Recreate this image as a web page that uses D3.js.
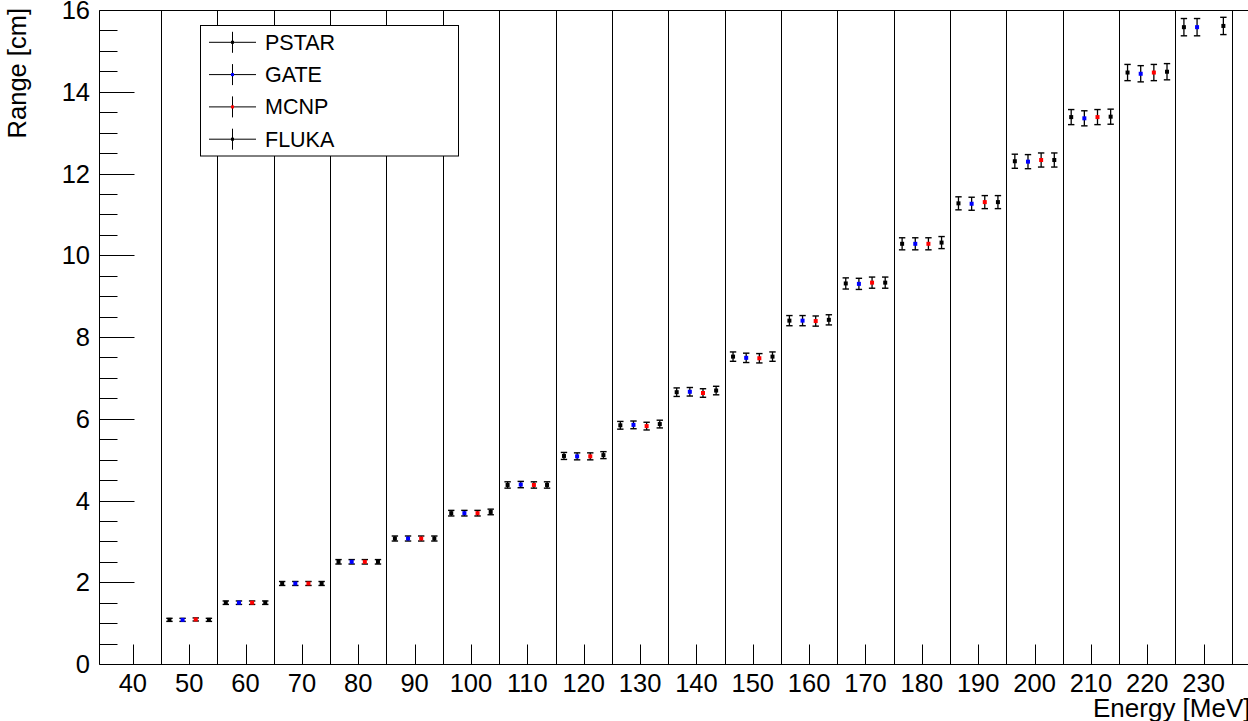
<!DOCTYPE html>
<html>
<head>
<meta charset="utf-8">
<script src="https://cdn.jsdelivr.net/npm/d3@7"></script>
<style>
  html, body { margin: 0; padding: 0; background: #fff; overflow: hidden; }
  svg { display: block; }
  text { font-family: "Liberation Sans", Arial, Helvetica, sans-serif; fill: #000; }
</style>
</head>
<body>
<svg id="chart" width="1248" height="721"></svg>
<script>
// ---- data ----
const energies = [50, 60, 70, 80, 90, 100, 110, 120, 130, 140, 150, 160, 170, 180, 190, 200, 210, 220, 230];
const pstar = [1.08, 1.50, 1.97, 2.50, 3.07, 3.69, 4.38, 5.09, 5.84, 6.65, 7.52, 8.40, 9.31, 10.28, 11.27, 12.30, 13.38, 14.47, 15.58];
const gate  = [1.08, 1.50, 1.97, 2.50, 3.07, 3.69, 4.39, 5.08, 5.85, 6.66, 7.49, 8.40, 9.30, 10.28, 11.26, 12.29, 13.35, 14.44, 15.58];
const mcnp  = [1.09, 1.50, 1.97, 2.50, 3.07, 3.69, 4.38, 5.08, 5.82, 6.63, 7.48, 8.39, 9.33, 10.28, 11.30, 12.33, 13.38, 14.47, null];
const fluka = [1.08, 1.50, 1.97, 2.50, 3.07, 3.72, 4.38, 5.11, 5.87, 6.69, 7.52, 8.42, 9.33, 10.31, 11.30, 12.33, 13.39, 14.49, 15.61];
const errors = [0.013, 0.018, 0.024, 0.030, 0.037, 0.044, 0.053, 0.061, 0.070, 0.080, 0.090, 0.100, 0.112, 0.123, 0.135, 0.148, 0.160, 0.174, 0.187];
const seriesNames = ["PSTAR", "GATE", "MCNP", "FLUKA"];
const seriesColors = ["#000000", "#0000ff", "#ff0000", "#000000"];
const xTickValues = [40, 50, 60, 70, 80, 90, 100, 110, 120, 130, 140, 150, 160, 170, 180, 190, 200, 210, 220, 230];
const separators = [45, 55, 65, 75, 85, 95, 105, 115, 125, 135, 145, 155, 165, 175, 185, 195, 205, 215, 225, 235];
const yMajorTicks = [0, 2, 4, 6, 8, 10, 12, 14, 16];
const xTitle = "Energy [MeV]";
const yTitle = "Range [cm]";

const seriesValues = [pstar, gate, mcnp, fluka];
const offsets = [-3.5, -7 / 6, 7 / 6, 3.5];

// ---- layout ----
const svg = d3.select("#chart");
const x = d3.scaleLinear().domain([34, 240]).range([99, 1260]);
const y = d3.scaleLinear().domain([0, 16]).range([664, 10]);
const fLeft = 99.5, fTop = 10.5, fBottom = 664.5, fRight = 1260;

const g = svg.append("g");

// separators (vertical lines)
g.selectAll("line.sep").data(separators).enter().append("line")
  .attr("x1", d => Math.round(x(d)) + 0.5).attr("x2", d => Math.round(x(d)) + 0.5)
  .attr("y1", fTop).attr("y2", fBottom)
  .attr("stroke", "#000").attr("stroke-width", 1);

// frame
g.append("line").attr("x1", fLeft).attr("x2", fRight).attr("y1", fTop).attr("y2", fTop).attr("stroke", "#000");
g.append("line").attr("x1", fLeft).attr("x2", fRight).attr("y1", fBottom).attr("y2", fBottom).attr("stroke", "#000");
g.append("line").attr("x1", fLeft).attr("x2", fLeft).attr("y1", fTop).attr("y2", fBottom).attr("stroke", "#000");

// y axis ticks
const yMinor = d3.range(0, 16.01, 0.5).filter(v => v % 2 !== 0);
g.selectAll("line.ymin").data(yMinor).enter().append("line")
  .attr("x1", fLeft).attr("x2", fLeft + 18)
  .attr("y1", d => Math.round(y(d)) + 0.5).attr("y2", d => Math.round(y(d)) + 0.5)
  .attr("stroke", "#000");
g.selectAll("line.ymaj").data(yMajorTicks).enter().append("line")
  .attr("x1", fLeft).attr("x2", fLeft + 35)
  .attr("y1", d => Math.round(y(d)) + 0.5).attr("y2", d => Math.round(y(d)) + 0.5)
  .attr("stroke", "#000");
g.selectAll("text.ylab").data(yMajorTicks).enter().append("text")
  .attr("x", 90).attr("y", d => y(d) + 9)
  .attr("text-anchor", "end").attr("font-size", 25.5)
  .text(d => d);

// x axis ticks
g.selectAll("line.xt").data(xTickValues).enter().append("line")
  .attr("x1", d => Math.round(x(d)) + 0.5).attr("x2", d => Math.round(x(d)) + 0.5)
  .attr("y1", fBottom).attr("y2", fBottom - 20)
  .attr("stroke", "#000");
g.selectAll("text.xlab").data(xTickValues).enter().append("text")
  .attr("x", d => x(d)).attr("y", 692)
  .attr("text-anchor", "middle").attr("font-size", 25.5)
  .text(d => d);

// titles
svg.append("text").attr("x", 1093).attr("y", 717).attr("font-size", 26).text(xTitle);
svg.append("text").attr("transform", "translate(26,8) rotate(-90)")
  .attr("text-anchor", "end").attr("font-size", 25.5).text(yTitle);

// data points with error bars
seriesValues.forEach((vals, si) => {
  const pts = energies.map((e, i) => ({ e: e, v: vals[i], err: errors[i] })).filter(d => d.v !== null);
  const sg = g.append("g");
  const cx = d => x(d.e + offsets[si]);
  sg.selectAll("line.eb").data(pts).enter().append("line")
    .attr("x1", cx).attr("x2", cx)
    .attr("y1", d => y(d.v - d.err) + 1).attr("y2", d => y(d.v + d.err) - 1)
    .attr("stroke", "#000").attr("stroke-width", 1.3);
  sg.selectAll("line.capl").data(pts).enter().append("line")
    .attr("x1", d => cx(d) - 3.2).attr("x2", d => cx(d) + 3.2)
    .attr("y1", d => y(d.v - d.err) + 1).attr("y2", d => y(d.v - d.err) + 1)
    .attr("stroke", "#000").attr("stroke-width", 1.4);
  sg.selectAll("line.caph").data(pts).enter().append("line")
    .attr("x1", d => cx(d) - 3.2).attr("x2", d => cx(d) + 3.2)
    .attr("y1", d => y(d.v + d.err) - 1).attr("y2", d => y(d.v + d.err) - 1)
    .attr("stroke", "#000").attr("stroke-width", 1.4);
  sg.selectAll("rect.m").data(pts).enter().append("rect")
    .attr("x", d => cx(d) - 2).attr("y", d => y(d.v) - 2)
    .attr("width", 4).attr("height", 4)
    .attr("fill", seriesColors[si]);
});

// legend
const lg = svg.append("g");
lg.append("rect").attr("x", 200.5).attr("y", 25.5).attr("width", 258).attr("height", 130.5)
  .attr("fill", "#fff").attr("stroke", "#000");
seriesNames.forEach((name, i) => {
  const cy = 42.3 + 32.3 * i;
  lg.append("line").attr("x1", 209).attr("x2", 256).attr("y1", cy).attr("y2", cy).attr("stroke", "#000");
  lg.append("line").attr("x1", 232.5).attr("x2", 232.5).attr("y1", cy - 10.5).attr("y2", cy + 10.5).attr("stroke", "#000");
  lg.append("rect").attr("x", 231).attr("y", cy - 1.5).attr("width", 3).attr("height", 3).attr("fill", seriesColors[i]);
  lg.append("text").attr("x", 265).attr("y", cy + 7.5).attr("font-size", 21.5).text(name);
});
</script>
</body>
</html>
